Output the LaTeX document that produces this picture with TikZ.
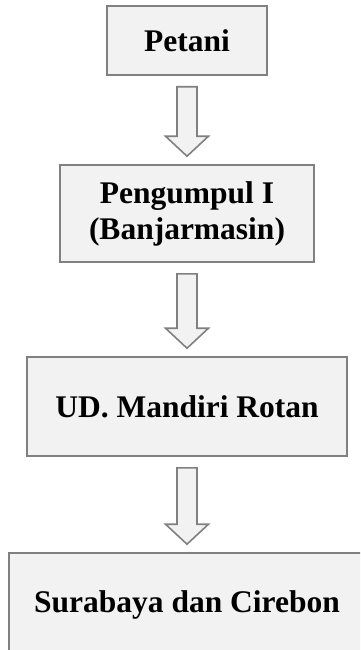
\documentclass[tikz,border=0pt]{standalone}
\usepackage{fontspec}
\setmainfont{Liberation Serif}
\usetikzlibrary{calc}
\definecolor{boxgray}{RGB}{242,242,242}
\definecolor{edgegray}{RGB}{128,128,128}

% hollow block arrow from the bottom of one box to the top of the next
\newcommand{\flowarrow}[2]{%
  \draw[flowarr] ($(#1.south)+(-10,11)$) -- ($(#1.south)+(10,11)$) -- ($(#2.north)+(10,-28)$)
    -- ($(#2.north)+(21.5,-28)$) -- ($(#2.north)+(0,-8)$) -- ($(#2.north)+(-21.5,-28)$)
    -- ($(#2.north)+(-10,-28)$) -- cycle;}

\begin{document}
\begin{tikzpicture}[x=1pt, y=-1pt,
  stage/.style={draw=edgegray, line width=1.6pt, fill=boxgray, inner sep=0pt, align=center,
    font=\bfseries\fontsize{31.5}{36}\selectfont},
  flowarr/.style={draw=edgegray, line width=1.6pt, fill=boxgray, line join=miter}]
\useasboundingbox (0,0) rectangle (360,650);
\clip (0,0) rectangle (360,650);
\node[stage, minimum width=160pt, minimum height=69pt] (petani) at (187,40.5) {Petani};
\node[stage, minimum width=254pt, minimum height=97pt] (pengumpul) at (187,213.5) {Pengumpul I\\(Banjarmasin)};
\node[stage, minimum width=320pt, minimum height=99pt] (mandiri) at (187,406.5) {UD. Mandiri Rotan};
\node[stage, minimum width=356pt, minimum height=103pt] (tujuan) at (187,604.5) {Surabaya dan Cirebon};
\flowarrow{petani}{pengumpul}
\flowarrow{pengumpul}{mandiri}
\flowarrow{mandiri}{tujuan}
\end{tikzpicture}
\end{document}
